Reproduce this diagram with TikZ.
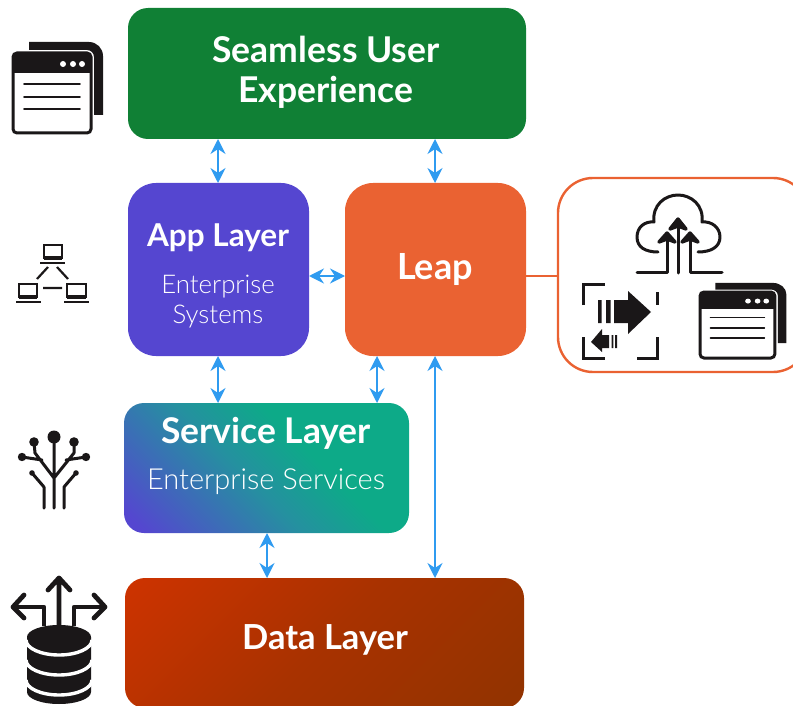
\documentclass[tikz,border=0pt]{standalone}
\usepackage{fontspec}
\setmainfont{Lato}
\newfontfamily\lightfont{Lato Light}
\usetikzlibrary{arrows.meta}
\definecolor{cgreen}{HTML}{108035}
\definecolor{cpurple}{HTML}{5546D0}
\definecolor{corange}{HTML}{EA6232}
\definecolor{cteal}{HTML}{0DAA88}
\definecolor{cmid}{HTML}{2590A0}
\definecolor{cred}{HTML}{CC3300}
\definecolor{cdmid}{HTML}{A83200}
\definecolor{cbrown}{HTML}{933300}
\definecolor{carrow}{HTML}{2F9BF0}
\definecolor{cicon}{HTML}{1A1718}
\pgfdeclareverticalshading{svcshade}{100bp}{color(0bp)=(cpurple); color(18bp)=(cpurple); color(45bp)=(cmid); color(60bp)=(cteal); color(100bp)=(cteal)}
\pgfdeclareverticalshading{datashade}{100bp}{color(0bp)=(cbrown); color(18bp)=(cbrown); color(50bp)=(cdmid); color(84bp)=(cred); color(100bp)=(cred)}
\tikzset{
  box/.style={inner sep=0pt,outer sep=0pt,text=white},
  txtb/.style={text=white,inner sep=0pt,anchor=base,font=\bfseries\fontsize{#1}{#1}\selectfont},
  txtl/.style={text=white,inner sep=0pt,anchor=base,font=\lightfont\fontsize{#1}{#1}\selectfont},
  link/.style={carrow,line width=1.6pt,{Stealth[length=15pt,width=15pt,inset=5pt]}-{Stealth[length=15pt,width=15pt,inset=5pt]}},
  ic/.style={draw=cicon,line width=#1,line cap=round,line join=round},
  ic/.default=3pt,
  pics/win/.style={code={
    \fill[cicon] (16,-3) -- (16,-11) -- (76,-11) arc[radius=14,start angle=-90,end angle=0] -- (90,62) -- (81,62) -- (81,4) arc[radius=7,start angle=0,end angle=-90] -- cycle;
    \draw[cicon,line width=3pt,fill=white,rounded corners=4pt] (0,0) rectangle (78,80);
    \fill[cicon,rounded corners=4pt] (0,20) -- (0,0) -- (78,0) -- (78,20) -- cycle;
    \fill[cicon] (0,10) rectangle (78,20);
    \fill[white] (50,11) circle[radius=3] (60,11) circle[radius=3] (69,11) circle[radius=3];
    \draw[cicon,line width=1.8pt,line cap=round] (11,31) -- (67,31) (11,44) -- (67,44) (11,56) -- (67,56);
  }}
}
\begin{document}
\begin{tikzpicture}[x=1pt,y=-1pt]
\useasboundingbox (0,0) rectangle (793,706);
% callout
\node[box,draw=corange,line width=2.4pt,fill=white,rounded corners=35pt,minimum width=250pt,minimum height=194pt] (callout) at (683,275) {};
% boxes
\node[box,fill=cgreen,rounded corners=20pt,minimum width=398pt,minimum height=131pt] (ux) at (327,73.5) {};
\node[box,fill=cpurple,rounded corners=28pt,minimum width=181pt,minimum height=173pt] (app) at (218.5,269.5) {};
\node[box,fill=corange,rounded corners=28pt,minimum width=181pt,minimum height=173pt] (leap) at (435.5,269.5) {};
\node[box,shade,shading=svcshade,shading angle=-45,rounded corners=20pt,minimum width=285pt,minimum height=130pt] (svc) at (266.5,468) {};
\node[box,shade,shading=datashade,shading angle=45,rounded corners=20pt,minimum width=399pt,minimum height=130pt] (data) at (324.5,643) {};
% labels
\node[txtb=35.5] (t1) at (326,62.5) {Seamless User};
\node[txtb=35.5] (t2) at (326,102.5) {Experience};
\node[txtb=31.5] (t3) at (218,246) {App Layer};
\node[txtl=25.8] (t4) at (218,293) {Enterprise};
\node[txtl=25.8] (t5) at (218,323) {Systems};
\node[txtb=36] (t6) at (435,279) {Leap};
\node[txtb=35.4] (t7) at (266,443) {Service Layer};
\node[txtl=29] (t8) at (266,489) {Enterprise Services};
\node[txtb=34.5] (t9) at (325,649) {Data Layer};
% connectors
\coordinate (a1) at (218,0);
\coordinate (a2) at (435,0);
\coordinate (a3) at (377,0);
\coordinate (a4) at (267,0);
\coordinate (a5) at (0,276);
\draw[link] (a1 |- ux.south) -- (a1 |- app.north);
\draw[link] (a2 |- ux.south) -- (a2 |- leap.north);
\draw[link] (app.east |- a5) -- (leap.west |- a5);
\draw[link] (a1 |- app.south) -- (a1 |- svc.north);
\draw[link] (a3 |- leap.south) -- (a3 |- svc.north);
\draw[link] (a2 |- leap.south) -- (a2 |- data.north);
\draw[link] (a4 |- svc.south) -- (a4 |- data.north);
\draw[corange,line width=2pt] (leap.east |- a5) -- (callout.west |- a5);
% left window icon
\pic (w1) at (13,53) {win};
% network icon
\begin{scope}[cicon]
\draw[line width=1.8pt] (44,245) rectangle (62,258);
\draw[line width=2pt] (40,263) -- (65,263);
\fill (44,256) rectangle (62,260);
\draw[line width=1.8pt] (19,284) rectangle (37,297);
\fill (19,295) rectangle (37,299);
\draw[line width=2pt] (16,302) -- (41,302);
\draw[line width=1.8pt] (67,284) rectangle (86,297);
\fill (67,295) rectangle (86,299);
\draw[line width=2pt] (64,302) -- (89,302);
\draw[line width=2.2pt] (48,267) -- (37,279) (57,267) -- (68,279) (43,288) -- (62,288);
\end{scope}
% tree icon
\draw[ic] (54,437) -- (54,508) (54,478) -- (35,453) -- (34,442) (54,478) -- (74,453) -- (74,442) (42,460) -- (22,457) (66,460) -- (86,457) (32,473) -- (44,487) -- (44,508) (76,473) -- (64,487) -- (64,508);
\fill[cicon] (54,437) circle[radius=6.5] (34,442) circle[radius=4.8] (74,442) circle[radius=4.8] (22,457) circle[radius=4.2] (86,457) circle[radius=4.2] (32,473) circle[radius=2.8] (76,473) circle[radius=2.8];
% database icon
\fill[cicon] (27,637) arc[x radius=32,y radius=12,start angle=180,end angle=360] -- (91,692) arc[x radius=32,y radius=12,start angle=0,end angle=180] -- cycle;
\draw[white,line width=3.4pt] (26,640) arc[x radius=33,y radius=15,start angle=180,end angle=0]
  (26,660) arc[x radius=33,y radius=15,start angle=180,end angle=0]
  (26,680) arc[x radius=33,y radius=15,start angle=180,end angle=0];
\draw[ic=4.8pt] (59,626) -- (59,578) (48,590) -- (59,578) -- (70,590);
\draw[ic=4.8pt,line cap=butt] (44,626) -- (44,607) -- (14,607);
\draw[ic=4.8pt] (24,595) -- (13,607) -- (24,618);
\draw[ic=4.8pt,line cap=butt] (74,626) -- (74,607) -- (104,607);
\draw[ic=4.8pt] (94,595) -- (105,607) -- (94,618);
% cloud icon
\draw[ic] (658,252) .. controls (645,252) and (637,247) .. (637,237) .. controls (637,227) and (645,221) .. (654,222) .. controls (652,205) and (665,195) .. (678,195) .. controls (691,195) and (704,205) .. (702,222) .. controls (711,221) and (720,227) .. (720,237) .. controls (720,247) and (711,252) .. (698,252);
\draw[ic] (637,272) -- (667,272) -- (667,235) (678,273) -- (678,222) (690,235) -- (690,272) -- (722,272);
\draw[ic=3.4pt,fill=cicon] (678,219) -- (686,229) -- (678,226) -- (670,229) -- cycle;
\draw[ic=3.4pt,fill=cicon] (667,233) -- (675,242) -- (667,239) -- (659,242) -- cycle;
\draw[ic=3.4pt,fill=cicon] (690,233) -- (698,242) -- (690,239) -- (682,242) -- cycle;
% migrate icon
\draw[cicon,line width=3pt] (583,305) -- (583,284) -- (605,284) (657,292) -- (657,305)
  (583,337) -- (583,358) -- (605,358) (637,358) -- (657,358) -- (657,337);
\fill[cicon] (598,300) rectangle (601.7,323) (606,300) rectangle (610.7,323)
  (614,300) -- (628,300) -- (628,291) -- (651,312) -- (628,334) -- (628,323) -- (614,323) -- cycle;
\fill[cicon] (591,342) -- (602,329) -- (602,335) -- (609,335) -- (609,348) -- (602,348) -- (602,352) -- cycle
  (611.7,335) rectangle (613.3,348) (615,335) rectangle (617,348);
% callout window icon
\pic[xscale=.96,yscale=.825] (w2) at (700,292) {win};
\end{tikzpicture}
\end{document}
